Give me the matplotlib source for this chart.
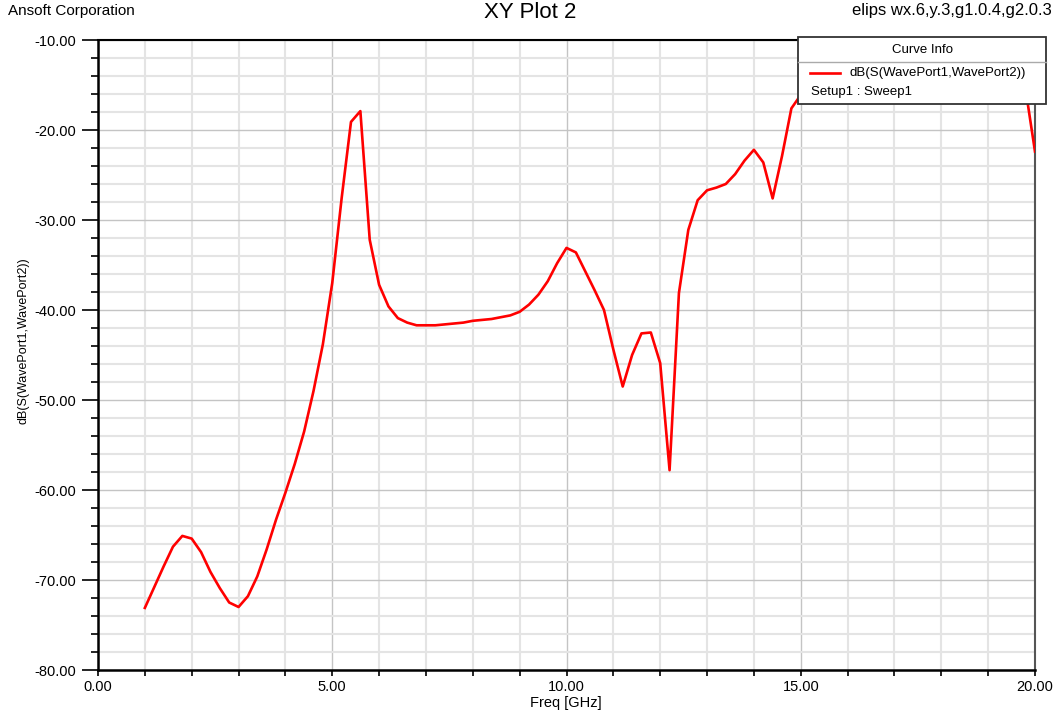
import matplotlib
matplotlib.use("Agg")
import matplotlib.pyplot as plt
from matplotlib.patches import Rectangle
from matplotlib.lines import Line2D
from matplotlib.ticker import MultipleLocator, FormatStrFormatter

plt.rcParams['font.family'] = ['Liberation Sans', 'DejaVu Sans']

# frequency sweep [GHz]
freq = [
    1.0, 1.2, 1.4, 1.6, 1.8, 2.0, 2.2, 2.4, 2.6, 2.8,
    3.0, 3.2, 3.4, 3.6, 3.8, 4.0, 4.2, 4.4, 4.6, 4.8,
    5.0, 5.2, 5.4, 5.6, 5.8, 6.0, 6.2, 6.4, 6.6, 6.8,
    7.0, 7.2, 7.4, 7.6, 7.8, 8.0, 8.2, 8.4, 8.6, 8.8,
    9.0, 9.2, 9.4, 9.6, 9.8, 10.0, 10.2, 10.4, 10.6, 10.8,
    11.0, 11.2, 11.4, 11.6, 11.8, 12.0, 12.2, 12.4, 12.6, 12.8,
    13.0, 13.2, 13.4, 13.6, 13.8, 14.0, 14.2, 14.4, 14.6, 14.8,
    15.0, 15.2, 15.4, 15.6, 15.8, 16.0, 16.2, 16.4, 16.6, 16.8,
    17.0, 17.2, 17.4, 17.6, 17.8, 18.0, 18.2, 18.4, 18.6, 18.8,
    19.0, 19.2, 19.4, 19.6, 19.8, 20.0,
]

# dB(S(WavePort1,WavePort2))
s21_db = [
    -73.1, -70.8, -68.5, -66.3, -65.1, -65.4, -66.9, -69.1, -70.9, -72.5,
    -73.0, -71.8, -69.6, -66.6, -63.3, -60.3, -57.1, -53.5, -49.0, -43.8,
    -37.0, -27.6, -19.1, -17.9, -32.2, -37.2, -39.6, -40.9, -41.4, -41.7,
    -41.7, -41.7, -41.6, -41.5, -41.4, -41.2, -41.1, -41.0, -40.8, -40.6,
    -40.2, -39.4, -38.3, -36.8, -34.8, -33.1, -33.6, -35.7, -37.8, -40.0,
    -44.4, -48.5, -45.0, -42.6, -42.5, -45.9, -57.8, -38.1, -31.1, -27.8,
    -26.7, -26.4, -26.0, -24.9, -23.4, -22.2, -23.6, -27.6, -22.9, -17.6,
    -16.1, -15.0, -14.3, -13.8, -13.4, -13.1, -12.9, -12.8, -12.7, -12.7,
    -12.8, -12.9, -13.0, -13.0, -12.9, -12.8, -12.7, -12.6, -12.6, -12.7,
    -12.8, -13.0, -13.4, -14.0, -15.5, -22.4,
]

W, H = 1060, 718


def fx(px):
    return px / W


def fy(py):
    return 1 - py / H


fig = plt.figure(figsize=(W / 100, H / 100), dpi=100)
ax = fig.add_axes([fx(98), fy(670), (1035 - 98) / W, (670 - 40) / H])

ax.plot(freq, s21_db, color='#ff0000', linewidth=1.9, zorder=3)

ax.set_xlim(0, 20)
ax.set_ylim(-80, -10)
ax.xaxis.set_major_locator(MultipleLocator(5))
ax.xaxis.set_minor_locator(MultipleLocator(1))
ax.yaxis.set_major_locator(MultipleLocator(10))
ax.yaxis.set_minor_locator(MultipleLocator(2))
ax.xaxis.set_major_formatter(FormatStrFormatter('%.2f'))
ax.yaxis.set_major_formatter(FormatStrFormatter('%.2f'))

ax.grid(which='minor', color='#e4e4e4', linewidth=1.5, zorder=0)
ax.grid(which='major', color='#c4c4c4', linewidth=1.0, zorder=1)
ax.set_axisbelow(True)

ax.tick_params(axis='y', which='major', direction='out', length=11.5, width=1.2,
               labelsize=10.5, pad=4)
ax.tick_params(axis='y', which='minor', direction='out', length=5, width=1.2)
ax.tick_params(axis='x', which='both', direction='out', length=4.5, width=1.2,
               labelsize=10.5, pad=3)

for side in ['left', 'bottom']:
    ax.spines[side].set_linewidth(1.8)
    ax.spines[side].set_color('black')
ax.spines['top'].set_linewidth(1.5)
ax.spines['top'].set_color('black')
ax.spines['right'].set_linewidth(1.5)
ax.spines['right'].set_color('#555555')

# textos
fig.text(fx(8), fy(11), 'Ansoft Corporation', fontsize=11, ha='left', va='center')
fig.text(fx(530), fy(13), 'XY Plot 2', fontsize=16, ha='center', va='center')
fig.text(fx(1052), fy(11), 'elips wx.6,y.3,g1.0.4,g2.0.3', fontsize=12,
         ha='right', va='center')
fig.text(fx(566), fy(703), 'Freq [GHz]', fontsize=10.5, ha='center', va='center')
fig.text(fx(24), fy(341), 'dB(S(WavePort1,WavePort2))', fontsize=9,
         rotation=90, ha='center', va='center')

# cuadro "Curve Info"
box = Rectangle((fx(798), fy(104)), (1046 - 798) / W, (104 - 37) / H,
                transform=fig.transFigure, facecolor='white',
                edgecolor='#333333', linewidth=1.3, zorder=5)
fig.add_artist(box)
fig.add_artist(Line2D([fx(798), fx(1046)], [fy(62), fy(62)],
                      transform=fig.transFigure, color='#aaaaaa',
                      linewidth=1.0, zorder=6))
fig.add_artist(Line2D([fx(810), fx(840)], [fy(73), fy(73)],
                      transform=fig.transFigure, color='#ff0000',
                      linewidth=1.9, zorder=6))
fig.text(fx(922), fy(50), 'Curve Info', fontsize=9.5, ha='center', va='center',
         zorder=7)
fig.text(fx(849), fy(73), 'dB(S(WavePort1,WavePort2))', fontsize=9.5,
         ha='left', va='center', zorder=7)
fig.text(fx(811), fy(92), 'Setup1 : Sweep1', fontsize=9.5, ha='left',
         va='center', zorder=7)

fig.savefig('out.png', dpi=100)
